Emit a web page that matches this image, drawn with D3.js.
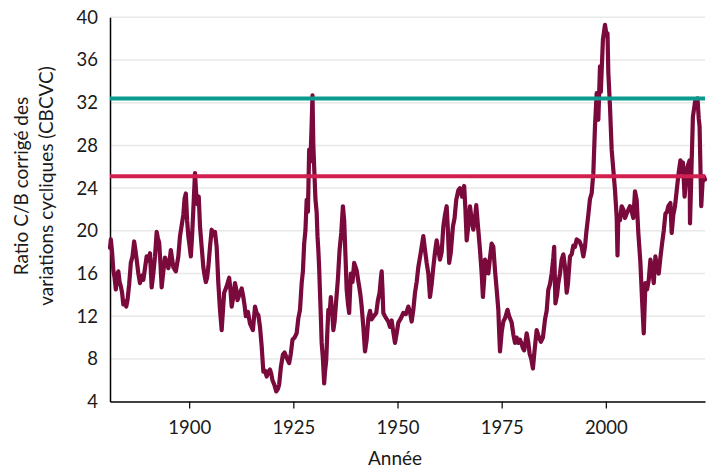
<!DOCTYPE html>
<html><head><meta charset="utf-8">
<script src="https://cdn.jsdelivr.net/npm/d3@7"></script>
<style>body{margin:0;background:#fff}svg{display:block}text{font-family:Lato,"Noto Sans",sans-serif;fill:#1a1a1a}</style>
</head><body>
<svg id="c" width="714" height="472"></svg>
<script>
const years = [1881.0,1881.2,1881.5,1881.8,1882.1,1882.4,1882.7,1883.0,1883.3,1883.6,1883.9,1884.2,1884.6,1884.9,1885.2,1885.6,1886.0,1886.4,1886.8,1887.1,1887.4,1887.8,1888.2,1888.6,1889.0,1889.4,1889.8,1890.2,1890.6,1891.0,1891.4,1891.8,1892.2,1892.5,1892.8,1893.1,1893.4,1893.8,1894.2,1894.6,1895.0,1895.3,1895.6,1895.9,1896.2,1896.8,1897.1,1897.4,1897.8,1898.2,1898.6,1898.9,1899.2,1899.5,1899.8,1900.1,1900.4,1900.7,1901.0,1901.4,1901.7,1902.0,1902.3,1902.6,1903.0,1903.4,1903.7,1904.0,1904.3,1904.6,1905.0,1905.4,1905.8,1906.2,1906.6,1907.0,1907.4,1907.8,1908.1,1908.4,1909.0,1909.6,1909.9,1910.2,1910.6,1911.0,1911.3,1911.6,1912.2,1912.6,1913.0,1913.3,1913.6,1914.1,1914.6,1915.3,1915.8,1916.2,1916.6,1917.0,1917.4,1917.8,1918.2,1918.6,1919.0,1919.4,1919.7,1920.0,1920.5,1920.9,1921.3,1921.6,1922.0,1922.5,1922.9,1923.3,1924.0,1924.4,1924.8,1925.3,1925.8,1926.2,1926.6,1927.0,1927.3,1927.6,1927.9,1928.2,1928.5,1928.8,1929.1,1929.4,1929.6,1929.8,1930.0,1930.3,1930.6,1930.8,1931.0,1931.2,1931.4,1931.6,1931.8,1932.1,1932.4,1932.6,1932.9,1933.1,1933.4,1933.7,1934.0,1934.3,1934.6,1934.9,1935.3,1935.7,1936.1,1936.5,1936.9,1937.2,1937.4,1937.8,1938.1,1938.4,1938.8,1939.2,1939.6,1940.2,1940.5,1940.8,1941.1,1941.4,1941.8,1942.2,1942.6,1943.0,1943.4,1943.8,1944.3,1944.9,1945.3,1945.7,1946.0,1946.2,1946.4,1946.6,1947.0,1947.3,1947.8,1948.2,1948.6,1949.0,1949.4,1949.8,1950.2,1950.8,1951.4,1952.0,1952.6,1953.0,1953.4,1953.8,1954.2,1954.6,1955.0,1955.6,1956.2,1956.6,1957.0,1957.4,1957.8,1958.2,1958.6,1959.0,1959.4,1959.8,1960.2,1960.6,1961.0,1961.4,1961.8,1962.1,1962.4,1962.8,1963.3,1963.7,1964.1,1964.6,1965.0,1965.5,1966.0,1966.3,1966.6,1967.0,1967.4,1967.8,1968.2,1968.6,1968.9,1969.3,1969.8,1970.2,1970.5,1970.8,1971.0,1971.4,1971.8,1972.2,1972.6,1973.0,1973.4,1973.8,1974.2,1974.4,1974.6,1975.0,1975.4,1975.8,1976.4,1976.8,1977.4,1977.8,1978.2,1978.6,1979.0,1979.4,1979.8,1980.1,1980.4,1980.8,1981.0,1981.4,1981.7,1982.1,1982.5,1982.9,1983.4,1983.8,1984.4,1984.9,1985.4,1985.8,1986.2,1986.6,1987.0,1987.4,1987.6,1987.8,1987.9,1988.3,1988.6,1989.0,1989.4,1989.8,1990.2,1990.6,1990.9,1991.4,1991.8,1992.2,1992.6,1993.0,1993.7,1994.2,1994.6,1995.0,1995.3,1995.8,1996.2,1996.6,1997.0,1997.4,1997.8,1998.0,1998.2,1998.6,1998.8,1999.3,1999.8,2000.1,2000.4,2000.6,2001.0,2001.4,2001.8,2002.2,2002.6,2002.8,2003.0,2003.4,2003.8,2004.2,2004.6,2005.2,2005.8,2006.2,2006.6,2007.0,2007.4,2007.8,2008.3,2008.7,2009.1,2009.5,2009.9,2010.3,2010.7,2011.1,2011.5,2011.9,2012.3,2012.7,2013.1,2013.5,2013.9,2014.3,2014.7,2015.0,2015.5,2015.8,2016.2,2016.6,2017.1,2017.5,2017.9,2018.2,2018.5,2018.9,2019.3,2019.6,2020.1,2020.2,2020.4,2020.6,2020.9,2021.2,2021.5,2022.0,2022.3,2022.5,2022.9,2023.2,2023.5,2023.8];
const cape = [18.4,19.2,18.0,16.3,15.6,14.5,15.8,16.2,15.2,14.8,14.2,13.1,13.4,12.9,13.5,15.0,17.0,17.6,19.0,18.2,17.3,16.0,15.1,15.8,15.4,16.5,17.6,17.2,17.9,14.7,16.0,17.6,19.9,19.3,18.9,17.0,14.7,16.2,17.5,17.0,16.5,17.2,18.2,17.4,16.6,16.2,16.9,17.6,19.5,20.5,21.5,23.0,23.5,21.0,19.5,18.6,17.6,19.5,22.0,25.4,23.4,22.5,23.2,20.4,18.5,16.6,15.8,15.2,15.6,16.6,18.5,20.1,19.6,19.9,18.5,15.1,12.6,10.7,12.5,14.2,14.8,15.6,14.5,12.9,13.8,15.1,14.5,13.5,14.2,14.6,13.8,13.0,12.0,12.4,11.3,10.7,12.9,12.3,12.1,11.0,9.2,6.8,6.9,6.35,6.8,7.0,6.6,6.0,5.5,4.95,5.2,5.6,7.2,8.4,8.6,8.2,7.6,8.5,9.8,10.0,10.4,11.8,12.6,15.1,16.2,18.8,20.0,22.9,21.8,27.6,26.5,30.0,32.7,28.0,26.0,23.0,21.7,19.5,18.2,16.5,14.2,12.0,9.5,8.0,5.7,6.8,7.9,10.0,12.6,12.2,13.8,12.5,10.7,11.5,13.5,15.5,18.2,19.8,22.3,21.0,18.9,14.5,13.2,12.3,16.0,15.2,17.0,16.3,15.5,14.8,14.0,12.9,11.0,8.7,9.8,11.8,12.5,11.7,12.0,12.3,13.5,14.2,15.5,16.2,14.5,12.3,12.0,11.8,11.5,11.0,11.6,10.5,9.5,10.4,11.4,11.8,12.3,12.2,12.9,12.4,11.5,12.6,14.2,15.2,16.6,18.0,19.5,18.2,17.0,16.0,13.8,15.0,16.6,18.0,19.1,18.2,17.3,18.0,20.4,21.5,22.3,20.0,17.0,18.0,20.4,21.2,22.9,23.8,24.0,23.2,24.2,22.0,19.1,20.5,22.3,21.0,20.1,21.2,22.4,20.5,18.2,16.0,13.8,15.5,17.3,17.0,16.0,17.5,18.8,18.5,16.3,14.5,12.6,10.5,8.7,10.5,11.5,11.8,12.6,12.0,11.4,10.3,9.5,10.0,9.5,9.8,9.4,9.0,8.8,9.8,10.4,9.5,8.5,8.0,7.1,8.8,10.7,10.2,9.6,10.0,11.7,12.5,14.5,15.0,16.0,17.5,18.5,15.0,13.2,14.0,15.1,16.0,17.3,17.8,16.6,14.2,15.0,17.6,17.8,18.6,18.5,19.2,19.0,18.5,17.6,18.5,19.8,21.5,23.0,23.5,25.4,29.8,32.9,31.5,30.4,35.4,33.0,37.9,39.3,38.5,38.5,34.8,31.6,27.6,25.7,23.8,21.3,17.7,21.3,21.0,22.3,22.0,21.2,21.8,22.3,21.8,21.2,23.7,22.9,19.8,17.0,13.5,10.4,15.1,14.5,15.4,17.3,16.5,15.1,17.6,16.5,16.0,17.5,18.8,20.0,21.6,21.8,22.3,22.6,19.8,21.5,22.3,24.1,25.5,26.6,25.5,26.4,23.2,25.0,26.0,26.6,20.7,23.5,26.5,30.7,31.5,32.3,32.4,30.5,29.8,22.3,24.5,25.1,24.8];
const yTicks = [4,8,12,16,20,24,28,32,36,40];
const xTicks = [1900,1925,1950,1975,2000];
const refLevels = [32.4, 25.1];
const refColors = ["#0a9a8e", "#d1204f"];

const svg = d3.select("#c");
const L = 110, R = 705, T = 17.3, B = 401.6;
const x = d3.scaleLinear().domain([1881, 2023.8]).range([L, R]);
const y = d3.scaleLinear().domain([4, 40]).range([B, T]);

// gridlines
svg.append("g").selectAll("line").data(yTicks.slice(1)).join("line")
  .attr("x1", L).attr("x2", R).attr("y1", d => y(d)).attr("y2", d => y(d))
  .attr("stroke", "#e8e8e8").attr("stroke-width", 1.5);

// y axis labels
const ya = svg.append("g").attr("transform", `translate(${L},0)`)
  .call(d3.axisLeft(y).tickValues(yTicks).tickSize(0).tickPadding(12));
ya.select(".domain").attr("stroke", "#000").attr("stroke-width", 1.5);
ya.selectAll("text").style("font-size", "18.5px").attr("fill", "#1a1a1a").style("font-family", "Lato, sans-serif");

// x axis
const xa = svg.append("g").attr("transform", `translate(0,${B})`)
  .call(d3.axisBottom(x).tickValues(xTicks).tickFormat(d3.format("d")).tickSize(7).tickSizeOuter(0).tickPadding(12));
xa.select(".domain").attr("stroke", "#000").attr("stroke-width", 1.5);
xa.selectAll(".tick line").attr("stroke", "#000").attr("stroke-width", 1.2);
xa.selectAll("text").style("font-size", "18.5px").attr("fill", "#1a1a1a").style("font-family", "Lato, sans-serif");

// data line
const pts = years.map((yr, i) => [yr, cape[i]]);
svg.append("path").datum(pts)
  .attr("fill", "none").attr("stroke", "#7a0a3c").attr("stroke-width", 4.2)
  .attr("stroke-linejoin", "round").attr("stroke-linecap", "round")
  .attr("d", d3.line().x(d => x(d[0])).y(d => y(d[1])));

// reference lines
svg.append("g").selectAll("line").data(refLevels).join("line")
  .attr("x1", L).attr("x2", R).attr("y1", d => y(d)).attr("y2", d => y(d))
  .attr("stroke", (d, i) => refColors[i]).attr("stroke-width", 4);

// axis titles
svg.append("text").attr("x", 395).attr("y", 465).attr("text-anchor", "middle")
  .style("font-size", "19px").text("Année");
const yl = svg.append("text").attr("transform", "translate(0,186) rotate(-90)")
  .attr("text-anchor", "middle").style("font-size", "19px");
yl.append("tspan").attr("x", 0).attr("y", 28).text("Ratio C/B corrigé des");
yl.append("tspan").attr("x", 0).attr("y", 53).text("variations cycliques (CBCVC)");
</script>
</body></html>
